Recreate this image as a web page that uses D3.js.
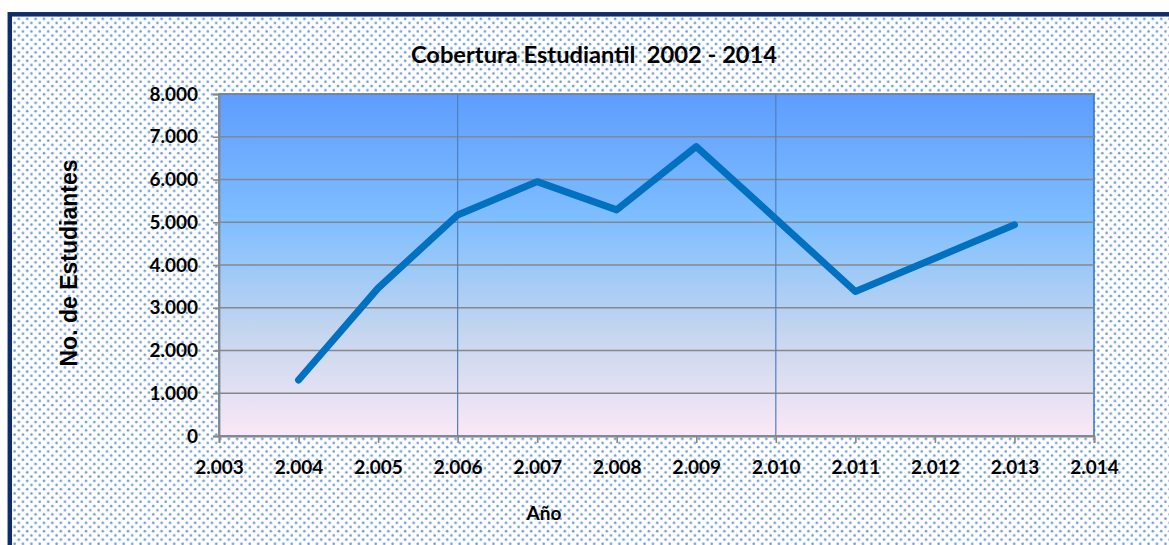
<!DOCTYPE html>
<html>
<head>
<meta charset="utf-8">
<script src="https://cdn.jsdelivr.net/npm/d3@7"></script>
<style>
  body { margin: 0; background: #fff; }
  svg { display: block; }
  text { font-family: Lato, "Open Sans", sans-serif; font-weight: bold; fill: #000; }
</style>
</head>
<body>
<svg id="chart" width="1169" height="545"></svg>
<script>
// data
var years = [2004, 2005, 2006, 2007, 2008, 2009, 2010, 2011, 2012, 2013];
var students = [1310, 3460, 5170, 5950, 5290, 6770, 5080, 3380, 4160, 4940];
var xTicks = [2003, 2004, 2005, 2006, 2007, 2008, 2009, 2010, 2011, 2012, 2013, 2014];
var yTicks = [0, 1000, 2000, 3000, 4000, 5000, 6000, 7000, 8000];
var xGridYears = [2006, 2010];

var svg = d3.select("#chart");
var margin = { left: 219, right: 1094, top: 94, bottom: 436 };

// dotted pattern + gradient
var defs = svg.append("defs");
var pat = defs.append("pattern")
    .attr("id", "dots")
    .attr("patternUnits", "userSpaceOnUse")
    .attr("width", 8.4).attr("height", 8.4);
pat.append("rect").attr("width", 8.4).attr("height", 8.4).attr("fill", "#fff");
pat.append("circle").attr("cx", 2).attr("cy", 2).attr("r", 1.3).attr("fill", "#6f9ad2");
pat.append("circle").attr("cx", 6.2).attr("cy", 6.2).attr("r", 1.3).attr("fill", "#6f9ad2");

var grad = defs.append("linearGradient")
    .attr("id", "bg").attr("x1", 0).attr("y1", 0).attr("x2", 0).attr("y2", 1);
grad.append("stop").attr("offset", "0%").attr("stop-color", "#5e9dfd");
grad.append("stop").attr("offset", "38%").attr("stop-color", "#80bfff");
grad.append("stop").attr("offset", "70%").attr("stop-color", "#c5d6ee");
grad.append("stop").attr("offset", "100%").attr("stop-color", "#fbe8f7");

// chart area with frame
svg.append("rect")
    .attr("x", 9.8).attr("y", 14.3)
    .attr("width", 1200).attr("height", 560)
    .attr("fill", "url(#dots)")
    .attr("stroke", "#0c2c6a")
    .attr("stroke-width", 4.5);

var x = d3.scaleLinear().domain([2003, 2014]).range([margin.left, margin.right]);
var y = d3.scaleLinear().domain([0, 8000]).range([margin.bottom, margin.top]);

// plot area
svg.append("rect")
    .attr("x", x(2003)).attr("y", y(8000))
    .attr("width", x(2014) - x(2003)).attr("height", y(0) - y(8000))
    .attr("fill", "url(#bg)")
    .attr("stroke", "#2f74c0")
    .attr("stroke-width", 1.5);

// horizontal grid
svg.append("g").selectAll("line")
    .data(yTicks.slice(1))
    .enter().append("line")
    .attr("x1", x(2003)).attr("x2", x(2014))
    .attr("y1", function (d) { return y(d); })
    .attr("y2", function (d) { return y(d); })
    .attr("stroke", "#878787")
    .attr("stroke-width", 1.6);

// vertical grid
svg.append("g").selectAll("line")
    .data(xGridYears)
    .enter().append("line")
    .attr("x1", function (d) { return x(d); })
    .attr("x2", function (d) { return x(d); })
    .attr("y1", y(8000)).attr("y2", y(0))
    .attr("stroke", "#4f7fc0")
    .attr("stroke-width", 1.2);

var fmt = function (d) { return d === 0 ? "0" : d3.format(",")(d).replace(",", "."); };

// axes
var yAxis = svg.append("g")
    .attr("transform", "translate(" + x(2003) + ",0)")
    .call(d3.axisLeft(y).tickValues(yTicks).tickSize(6).tickPadding(15).tickFormat(fmt));
var xAxis = svg.append("g")
    .attr("transform", "translate(0," + y(0) + ")")
    .call(d3.axisBottom(x).tickValues(xTicks).tickSize(7).tickPadding(18).tickFormat(fmt));

[yAxis, xAxis].forEach(function (g) {
    g.select(".domain").attr("stroke", "#878787").attr("stroke-width", 1.8);
    g.selectAll(".tick line").attr("stroke", "#878787").attr("stroke-width", 1.6);
    g.selectAll("text")
        .style("font-family", "Lato, sans-serif")
        .style("font-weight", "bold")
        .style("font-size", "19px")
        .attr("fill", "#000");
});

// the line
svg.append("path")
    .datum(years.map(function (d, i) { return { year: d, value: students[i] }; }))
    .attr("fill", "none")
    .attr("stroke", "#0070c0")
    .attr("stroke-width", 7)
    .attr("stroke-linejoin", "round")
    .attr("stroke-linecap", "round")
    .attr("d", d3.line()
        .x(function (d) { return x(d.year); })
        .y(function (d) { return y(d.value); }));

// titles
svg.append("text")
    .attr("x", 594).attr("y", 63)
    .attr("text-anchor", "middle")
    .style("font-size", "23.7px")
    .attr("xml:space", "preserve")
    .text("Cobertura Estudiantil  2002 - 2014");

svg.append("text")
    .attr("x", 544).attr("y", 520)
    .attr("text-anchor", "middle")
    .style("font-size", "19px")
    .text("Año");

svg.append("text")
    .attr("transform", "translate(77,263) rotate(-90)")
    .attr("text-anchor", "middle")
    .style("font-family", "'Liberation Sans', Arial, sans-serif")
    .style("font-size", "23px")
    .text("No. de Estudiantes");
</script>
</body>
</html>
